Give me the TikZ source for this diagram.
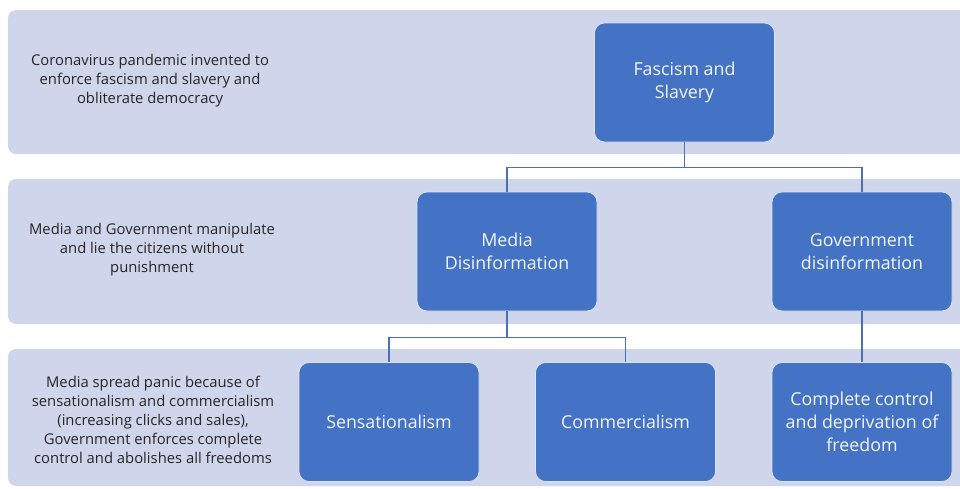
\documentclass[tikz,border=0pt]{standalone}
\usepackage{fontspec}
\setmainfont{Open Sans}
\usetikzlibrary{positioning}
\definecolor{bandfill}{HTML}{CFD5EA}
\definecolor{boxfill}{HTML}{4472C4}
\definecolor{linkcol}{HTML}{4A71B8}
\definecolor{sidetext}{HTML}{262626}

\begin{document}
\begin{tikzpicture}[x=1pt, y=-1pt,
  band/.style={fill=bandfill, rounded corners=8pt},
  orgbox/.style={draw=white!80!boxfill, line width=0.8pt, fill=boxfill, rounded corners=10pt,
    minimum width=180pt, minimum height=119pt, inner sep=0pt, text=white!94!boxfill, align=center,
    font=\fontsize{17.8}{23}\selectfont},
  sidenote/.style={text=sidetext, align=center, font=\fontsize{14.8}{19}\selectfont},
  link/.style={draw=linkcol, line width=1.3pt}]
\useasboundingbox (0,0) rectangle (960,488);
% the three level bands
\begin{scope}
\clip (0,0) rectangle (960,488);
\fill[band] (8,10) rectangle (990,154);
\fill[band] (8,179) rectangle (990,324);
\fill[band] (8,349) rectangle (990,486);
\end{scope}
% side notes
\node[sidenote] (note1) at (150,81) {Coronavirus pandemic invented to\\enforce fascism and slavery and\\obliterate democracy};
\node[sidenote] (note2) at (152,250) {Media and Government manipulate\\and lie the citizens without\\punishment};
\node[sidenote] (note3) at (153,420) {Media spread panic because of\\sensationalism and commercialism\\(increasing clicks and sales),\\Government enforces complete\\control and abolishes all freedoms};
% boxes
\node[orgbox] (fascism) at (684.5,82.5) {Fascism and\\Slavery};
\node[orgbox] (media) at (507,251.5) {Media\\Disinformation};
\node[orgbox] (gov) at (862,251.5) {Government\\disinformation};
\node[orgbox] (sens) at (389,422) {Sensationalism};
\node[orgbox] (comm) at (625.5,422) {Commercialism};
\node[orgbox] (control) at (862,422) {Complete control\\and deprivation of\\freedom};
% connectors
\draw[link] (fascism.south) -- ++(0,25) -| (media.north);
\draw[link] (fascism.south) -- ++(0,25) -| (gov.north);
\draw[link] (media.south) -- ++(0,26) -| (sens.north);
\draw[link] (media.south) -- ++(0,26) -| (comm.north);
\draw[link] (gov.south) -- (control.north);
\end{tikzpicture}
\end{document}
